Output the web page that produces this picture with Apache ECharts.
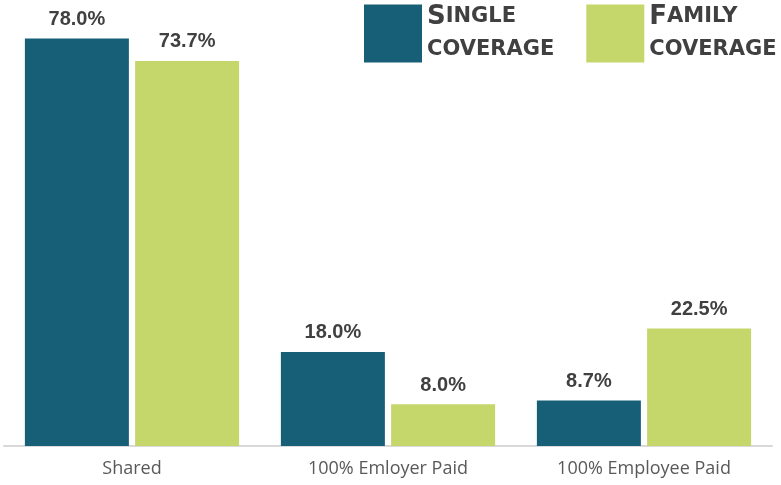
<!DOCTYPE html>
<html>
<head>
<meta charset="utf-8">
<script src="https://cdn.jsdelivr.net/npm/echarts@6/dist/echarts.min.js"></script>
<style>
  html, body { margin: 0; padding: 0; background: #fff; }
  #chart { width: 781px; height: 485px; }
</style>
</head>
<body>
<div id="chart"></div>
<script>
var categories = ['Shared', '100% Emloyer Paid', '100% Employee Paid'];
var singleCoverage = [78.0, 18.0, 8.7];
var familyCoverage = [73.7, 8.0, 22.5];

var chart = echarts.init(document.getElementById('chart'));

// legend text looks like small caps, faked with rich text
var legendRich = {
  big: { fontFamily: 'DejaVu Sans', fontWeight: 'bold', fontSize: 26, color: '#404040', lineHeight: 33 },
  small: { fontFamily: 'DejaVu Sans', fontWeight: 'bold', fontSize: 21, color: '#404040', lineHeight: 33 }
};

var valueLabel = {
  show: true, position: 'top', distance: 9,
  formatter: function (p) { return p.value.toFixed(1) + '%'; },
  fontFamily: 'Liberation Sans', fontWeight: 'bold', fontSize: 20, color: '#404040'
};

var option = {
  animation: false,
  legend: {
    left: 364,
    top: 4,
    width: 420,
    padding: 0,
    orient: 'horizontal',
    itemWidth: 58,
    itemHeight: 58,
    itemGap: 32,
    icon: 'rect',
    selectedMode: false,
    data: ['Single coverage', 'Family coverage'],
    formatter: function (name) {
      var words = name.toUpperCase().split(' ');
      return '{big|' + words[0].charAt(0) + '}{small|' + words[0].slice(1) + '}\n{small|' + words[1] + '}';
    },
    textStyle: { rich: legendRich }
  },
  grid: { left: 4, right: 9, top: 28, bottom: 39 },
  xAxis: {
    type: 'category',
    data: categories,
    axisTick: { show: false },
    axisLine: { lineStyle: { color: '#d9d9d9', width: 2 } },
    axisLabel: { color: '#595959', fontFamily: 'Open Sans', fontSize: 18, margin: 14 }
  },
  yAxis: {
    type: 'value',
    min: 0,
    max: 80,
    show: false,
    splitLine: { show: false }
  },
  series: [
    {
      name: 'Single coverage',
      type: 'bar',
      data: singleCoverage,
      barWidth: 104,
      barGap: '6%',
      itemStyle: { color: '#175f76' },
      label: valueLabel
    },
    {
      name: 'Family coverage',
      type: 'bar',
      data: familyCoverage,
      barWidth: 104,
      itemStyle: { color: '#c5d76a' },
      label: valueLabel
    }
  ]
};

chart.setOption(option);
</script>
</body>
</html>
